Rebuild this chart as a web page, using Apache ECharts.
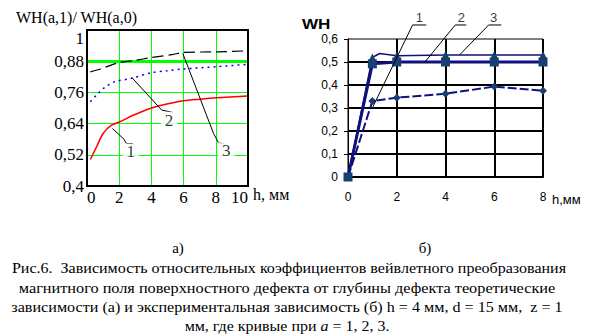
<!DOCTYPE html>
<html><head><meta charset="utf-8">
<script src="https://cdn.jsdelivr.net/npm/echarts@6/dist/echarts.min.js"></script>
<style>html,body{margin:0;padding:0;background:#fff}#c{width:597px;height:336px}</style>
</head><body><div id="c"></div>
<script>
// ---- Left chart (a): theoretical curves, WH(a,1)/WH(a,0) vs h ----
const leftXTicks = [0, 2, 4, 6, 8, 10];
const leftYTicks = ['0,4', '0,52', '0,64', '0,76', '0,88', '1'];
const curve1H = [0.21, 0.59, 1.0, 1.52, 2.04, 2.87, 4.01, 4.95, 5.99, 7.03, 8.07, 10.0];
const curve1V = [0.502, 0.55, 0.602, 0.634, 0.647, 0.672, 0.70, 0.715, 0.728, 0.734, 0.739, 0.746];
const curve2H = [0.21, 0.59, 1.1, 1.73, 2.77, 4.01, 4.95, 5.99, 8.07, 10.0];
const curve2V = [0.724, 0.75, 0.779, 0.801, 0.814, 0.836, 0.843, 0.85, 0.859, 0.868];
const curve3H = [0.21, 0.79, 1.93, 2.87, 3.91, 5.36, 5.99, 8.07, 10.0];
const curve3V = [0.839, 0.849, 0.874, 0.882, 0.893, 0.906, 0.914, 0.916, 0.92];
// leader lines and their labels (data units)
const leftLeader1 = [[1.58, 0.621], [2.3, 0.58], [2.45, 0.563], [2.85, 0.563]];
const leftLeader2 = [[2.77, 0.818], [4.64, 0.692], [5.32, 0.683]];
const leftLeader3 = [[5.95, 0.910], [7.86, 0.602], [8.17, 0.566], [8.48, 0.563]];
const leftLabels = [['1', 2.71, 0.531], ['2', 5.09, 0.653], ['3', 8.65, 0.535]];

// ---- Right chart (б): experimental curves WH vs h ----
const rightXTicks = [0, 2, 4, 6, 8];
const rightYTicks = ['0', '0,1', '0,2', '0,3', '0,4', '0,5', '0,6'];
const expH = [0, 1, 2, 4, 6, 8];
const exp1 = [0, 0.33, 0.345, 0.362, 0.393, 0.375];
const exp2 = [0, 0.492, 0.5, 0.5, 0.5, 0.5];
const exp3H = [0, 1, 1.3, 2, 4, 6, 8];
const exp3 = [0, 0.52, 0.537, 0.527, 0.53, 0.53, 0.53];
const rightLeader1 = [[1.02, 0.305], [2.65, 0.661], [3.21, 0.661]];
const rightLeader2 = [[3.14, 0.498], [4.40, 0.661], [4.85, 0.661]];
const rightLeader3 = [[4.58, 0.531], [5.77, 0.661], [6.29, 0.661]];
const rightLabels = [['1', 2.93, 0.695], ['2', 4.65, 0.695], ['3', 5.97, 0.695]];

const captionLines = [
  'Рис.6.  Зависимость относительных коэффициентов вейвлетного преобразования',
  'магнитного поля поверхностного дефекта от глубины дефекта теоретические',
  'зависимости (а) и экспериментальная зависимость (б) h = 4 мм, d = 15 мм,  z = 1',
  '{n|мм, где кривые при }{i|a}{n| = 1, 2, 3.}'
];

const SERIF = '"Liberation Serif","Times New Roman",serif';
const SANS = '"Liberation Sans",Arial,sans-serif';
const fmt = v => String(+v.toFixed(2)).replace('.', ',');
const zip = (a, b) => a.map((x, i) => [x, b[i]]);

const chart = echarts.init(document.getElementById('c'), null, {renderer: 'svg'});
const navy = '#10107e';
const mark = '#173f73';

const capY = [268, 288, 307, 326];
const capScale = [1.07, 1.085, 1.075, 1.065];
const capX = [289, 287, 287, 287];
const captionGraphics = captionLines.map((t, i) => ({
  type: 'group', x: capX[i], y: capY[i],
  children: [{
    type: 'text', x: 0, y: 0, scaleX: capScale[i],
    style: {text: t, x: 0, y: 0, font: '15px ' + SERIF, fill: '#000', align: 'center', verticalAlign: 'middle',
      rich: {n: {font: '15px ' + SERIF, fill: '#000'}, i: {font: 'italic 15px ' + SERIF, fill: '#000'}}}
  }]
}));

chart.setOption({
  animation: false,
  backgroundColor: '#fff',
  grid: [
    {left: 87, right: 349, top: 30, bottom: 150, show: true, borderColor: '#000', borderWidth: 2, z: 5},
    {left: 348, right: 54, top: 39, bottom: 159, show: true, borderColor: '#000', borderWidth: 1}
  ],
  xAxis: [
    {gridIndex: 0, type: 'value', min: 0, max: 10, interval: 2,
     axisLine: {show: false}, axisTick: {show: false},
     splitLine: {show: true, showMinLine: false, showMaxLine: false, lineStyle: {color: '#00ff00', width: 1}},
     axisLabel: {margin: 3, fontFamily: SERIF, fontSize: 17, color: '#000', alignMinLabel: 'left', alignMaxLabel: 'right',
       formatter: v => String(v)}},
    {gridIndex: 1, type: 'value', min: 0, max: 8, interval: 2,
     axisLine: {show: true, lineStyle: {color: '#000', width: 2}}, axisTick: {show: false},
     splitLine: {show: true, showMinLine: false, lineStyle: {color: '#000', width: 2}},
     axisLabel: {margin: 14, fontFamily: SANS, fontSize: 12, color: '#000', formatter: v => String(v)}}
  ],
  yAxis: [
    {gridIndex: 0, type: 'value', min: 0.4, max: 1, interval: 0.12,
     axisLine: {show: false}, axisTick: {show: false},
     splitLine: {show: true, showMinLine: false, showMaxLine: false, lineStyle: {color: '#00ff00', width: 1}},
     axisLabel: {margin: 3, fontFamily: SERIF, fontSize: 17, color: '#000', verticalAlignMaxLabel: 'top', formatter: fmt}},
    {gridIndex: 1, type: 'value', min: 0, max: 0.6, interval: 0.1,
     axisLine: {show: true, lineStyle: {color: '#000', width: 1}},
     axisTick: {show: true, length: 4, lineStyle: {color: '#000'}},
     splitLine: {show: true, showMinLine: false, showMaxLine: false, lineStyle: {color: '#000', width: 2}},
     axisLabel: {margin: 10, fontFamily: SANS, fontSize: 12, color: '#000', formatter: fmt}}
  ],
  series: [
    {type: 'line', xAxisIndex: 0, yAxisIndex: 0, data: zip(curve1H, curve1V), symbol: 'none', smooth: 0.3,
     lineStyle: {color: '#ff0000', width: 1.5}, z: 3,
     markLine: {silent: true, symbol: 'none', label: {show: false},
       lineStyle: {color: '#00ff00', width: 3, type: 'solid'}, data: [{yAxis: 0.88}], z: 1}},
    {type: 'line', xAxisIndex: 0, yAxisIndex: 0, data: zip(curve2H, curve2V), symbol: 'none', smooth: 0.3,
     lineStyle: {color: '#0000ff', width: 1.5, type: [2, 4]}, z: 3},
    {type: 'line', xAxisIndex: 0, yAxisIndex: 0, data: zip(curve3H, curve3V), symbol: 'none', smooth: 0.3,
     lineStyle: {color: '#000', width: 1.2, type: [11, 5]}, z: 3},
    {type: 'line', xAxisIndex: 0, yAxisIndex: 0, data: leftLeader1, symbol: 'none', lineStyle: {color: '#000', width: 1}, z: 4},
    {type: 'line', xAxisIndex: 0, yAxisIndex: 0, data: leftLeader2, symbol: 'none', lineStyle: {color: '#000', width: 1}, z: 4},
    {type: 'line', xAxisIndex: 0, yAxisIndex: 0, data: leftLeader3, symbol: 'none', lineStyle: {color: '#000', width: 1}, z: 4},
    {type: 'scatter', xAxisIndex: 0, yAxisIndex: 0, symbolSize: 0, z: 6,
     data: leftLabels.map(d => ({name: d[0], value: [d[1], d[2]]})),
     label: {show: true, position: 'inside', formatter: p => p.name, fontFamily: SERIF, fontSize: 17,
       color: '#000', backgroundColor: '#fff', padding: [0, 4]}},
    // right chart
    {type: 'line', xAxisIndex: 1, yAxisIndex: 1, data: zip(expH, exp1), symbol: 'diamond', symbolSize: 8,
     itemStyle: {color: mark}, lineStyle: {color: navy, width: 2, type: [9, 3]}, z: 3},
    {type: 'line', xAxisIndex: 1, yAxisIndex: 1, data: zip(expH, exp2), symbol: 'rect', symbolSize: 9,
     itemStyle: {color: mark}, lineStyle: {color: navy, width: 3}, z: 3},
    {type: 'line', xAxisIndex: 1, yAxisIndex: 1, data: zip(exp3H, exp3),
     symbol: (v, p) => (p.dataIndex === 2 ? 'none' : 'triangle'), symbolSize: 8,
     itemStyle: {color: mark}, lineStyle: {color: navy, width: 1.5}, z: 3},
    {type: 'line', xAxisIndex: 1, yAxisIndex: 1, data: rightLeader1, symbol: 'none', clip: false, lineStyle: {color: '#000', width: 1}, z: 4},
    {type: 'line', xAxisIndex: 1, yAxisIndex: 1, data: rightLeader2, symbol: 'none', clip: false, lineStyle: {color: '#000', width: 1}, z: 4},
    {type: 'line', xAxisIndex: 1, yAxisIndex: 1, data: rightLeader3, symbol: 'none', clip: false, lineStyle: {color: '#000', width: 1}, z: 4},
    {type: 'scatter', xAxisIndex: 1, yAxisIndex: 1, symbolSize: 0, clip: false, z: 6,
     data: rightLabels.map(d => ({name: d[0], value: [d[1], d[2]]})),
     label: {show: true, position: 'inside', formatter: p => p.name, fontFamily: SANS, fontSize: 13, color: '#000'}}
  ],
  graphic: [
    {type: 'text', left: 16, top: 9, style: {text: 'WH(a,1)/ WH(a,0)', font: '16px ' + SERIF, fill: '#000'}},
    {type: 'text', left: 253, top: 186, style: {text: 'h, мм', font: '16px ' + SERIF, fill: '#000'}},
    {type: 'text', x: 302, y: 17, scaleX: 1.22, style: {text: 'WH', font: 'bold 14px ' + SANS, fill: '#000'}},
    {type: 'text', left: 552, top: 193, style: {text: 'h,мм', font: '13px ' + SANS, fill: '#000'}},
    {type: 'text', x: 178, y: 248, style: {text: 'а)', font: '15px ' + SERIF, fill: '#000', align: 'center', verticalAlign: 'middle'}},
    {type: 'text', x: 425, y: 248, style: {text: 'б)', font: '15px ' + SERIF, fill: '#000', align: 'center', verticalAlign: 'middle'}}
  ].concat(captionGraphics)
});
</script></body></html>
